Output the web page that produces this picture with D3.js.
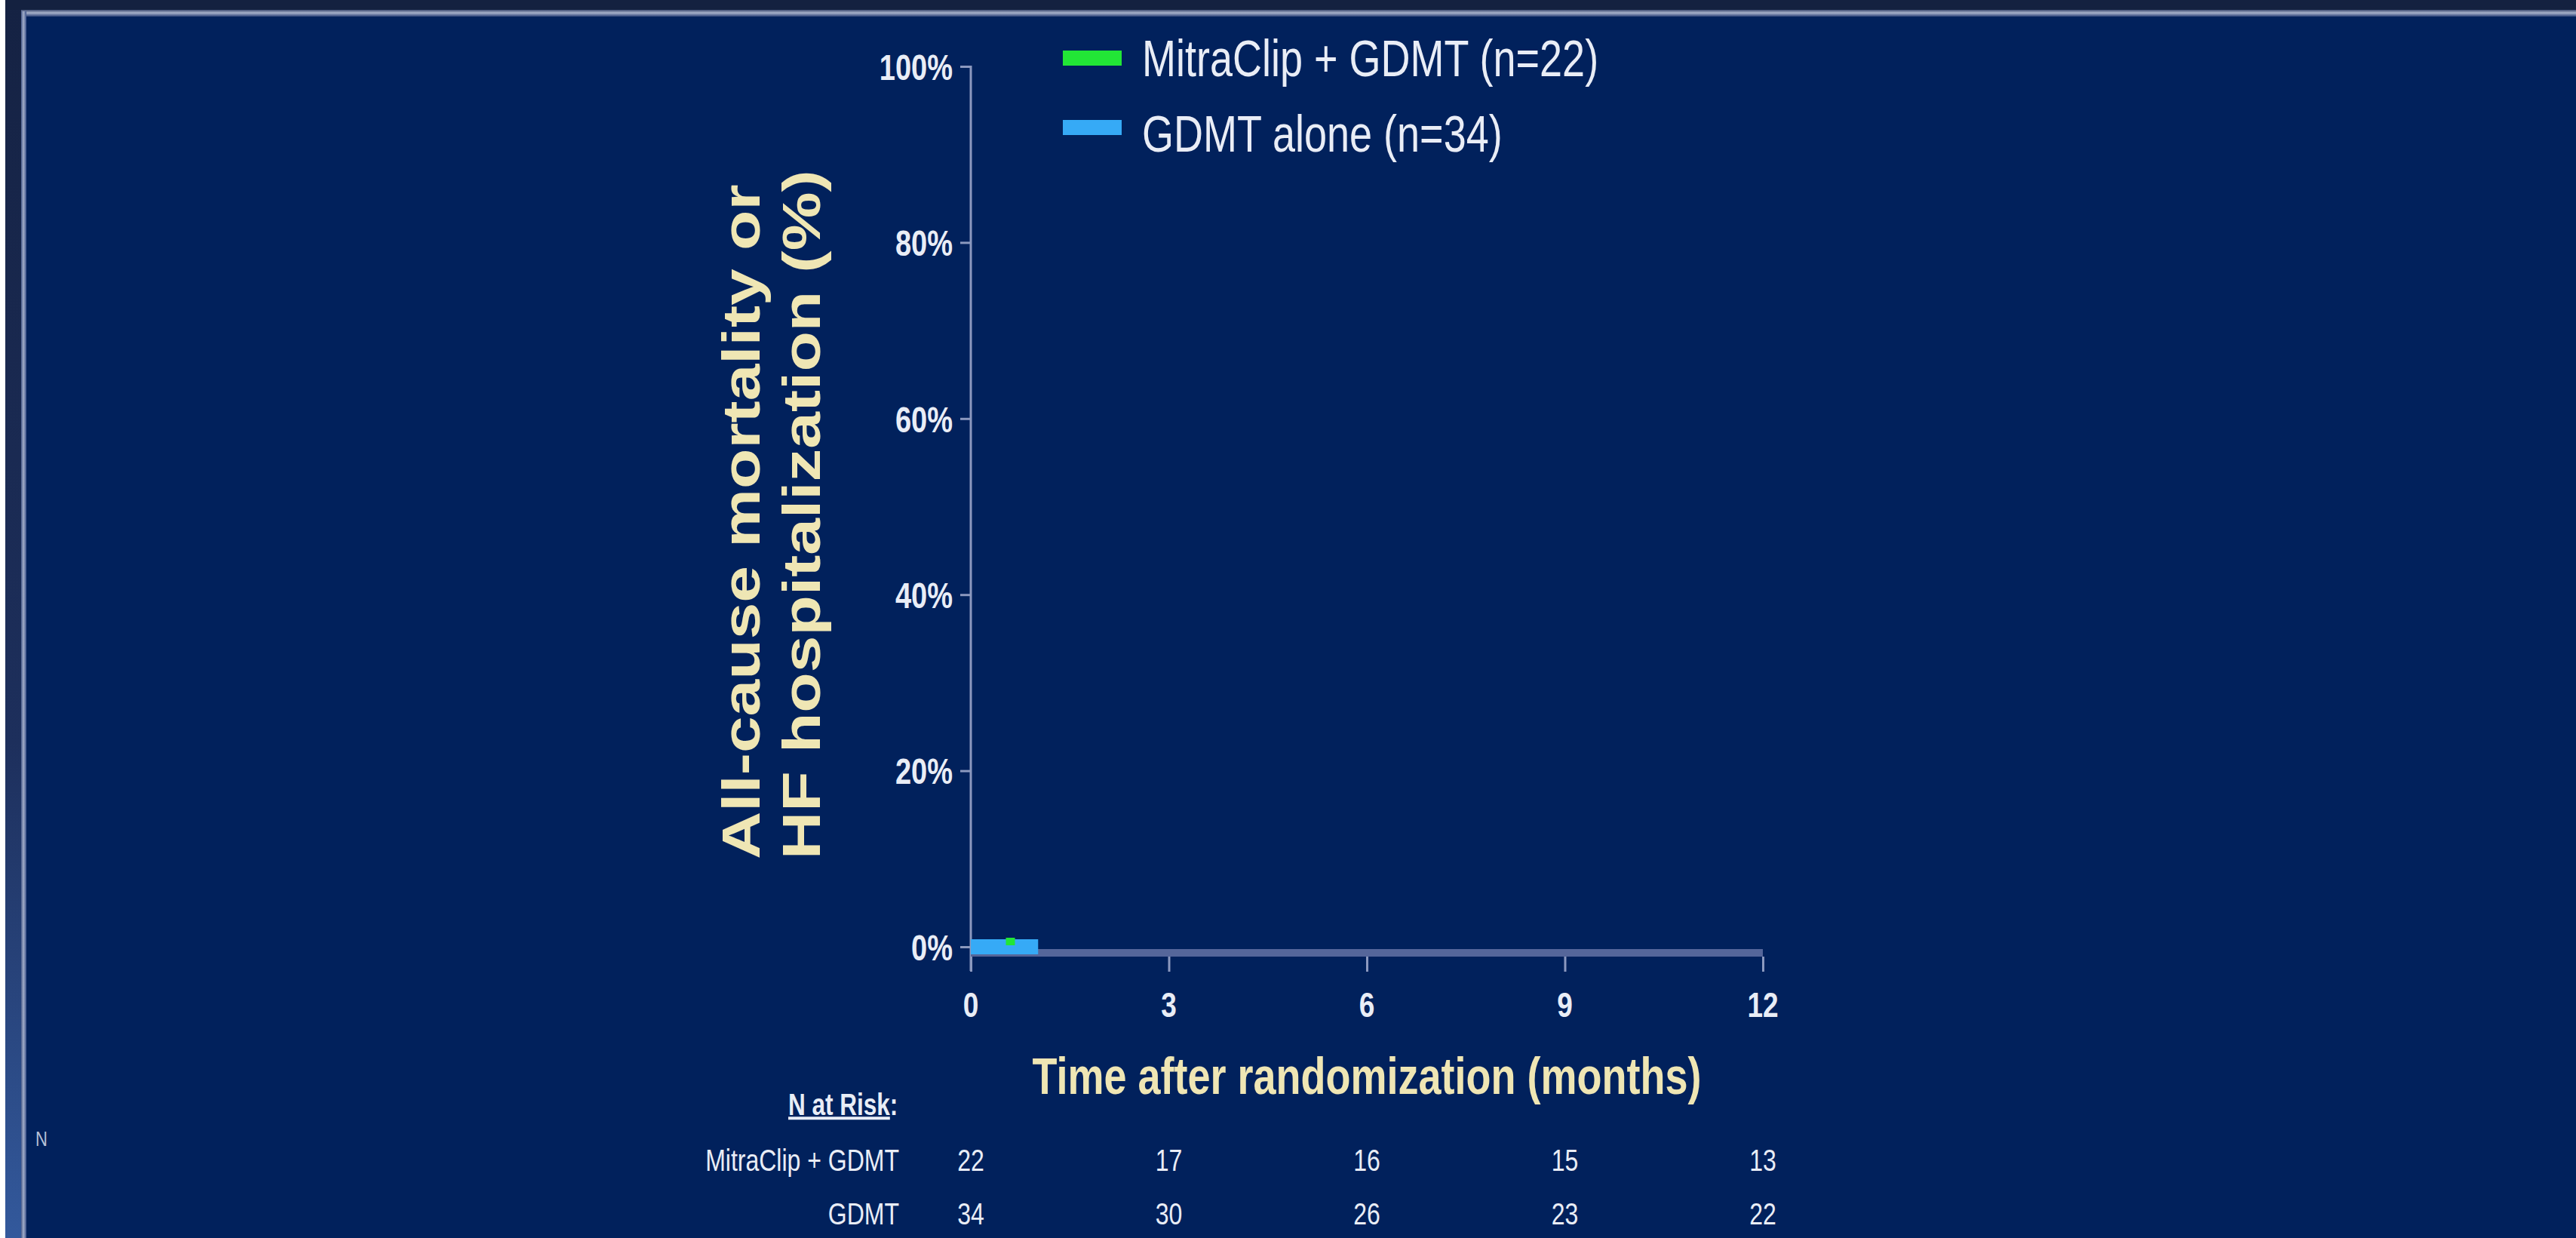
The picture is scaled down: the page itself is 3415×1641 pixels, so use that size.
<!DOCTYPE html>
<html>
<head>
<meta charset="utf-8">
<script src="https://cdn.jsdelivr.net/npm/d3@7"></script>
<style>
  html, body { margin: 0; padding: 0; background: #01215c; }
  svg { display: block; }
  text { font-family: "Liberation Sans", Arial, sans-serif; }
</style>
</head>
<body>
<svg id="chart" width="3415" height="1641"></svg>
<script>
// Kaplan-Meier style event curves (months, % with event)
const mitraTimes = [0, 0.6];
const mitraPct = [0, 0];
const mitraCensor = [0.6];
const gdmtTimes = [0, 1.02];
const gdmtPct = [0, 0];

// Axis ticks
const yTicks = [0, 20, 40, 60, 80, 100];
const xTicks = [0, 3, 6, 9, 12];

// Legend
const seriesNames = ["MitraClip + GDMT (n=22)", "GDMT alone (n=34)"];
const seriesColors = ["#22e636", "#36aaf6"];

// Number at risk table
const riskGroups = ["MitraClip + GDMT", "GDMT"];
const riskMitra = [22, 17, 16, 15, 13];
const riskGdmt = [34, 30, 26, 23, 22];

const W = 3415, H = 1641;
const K = 1.27;            // vertical stretch of the slide text
const cream = "#efe6b4";
const white = "#e9edf6";

const svg = d3.select("#chart");

// ---- slide frame ----
const defs = svg.append("defs");
const sideGrad = defs.append("linearGradient").attr("id", "sideGrad")
  .attr("x1", 0).attr("y1", 0).attr("x2", 0).attr("y2", 1);
sideGrad.append("stop").attr("offset", 0).attr("stop-color", "#152243");
sideGrad.append("stop").attr("offset", 0.6).attr("stop-color", "#1d2f5c");
sideGrad.append("stop").attr("offset", 1).attr("stop-color", "#33599c");
const hLine = defs.append("linearGradient").attr("id", "hLine")
  .attr("x1", 0).attr("y1", 0).attr("x2", 0).attr("y2", 1);
hLine.append("stop").attr("offset", 0).attr("stop-color", "#3d4b72");
hLine.append("stop").attr("offset", 0.45).attr("stop-color", "#a8b2cb");
hLine.append("stop").attr("offset", 1).attr("stop-color", "#2c4278");
const vLine = defs.append("linearGradient").attr("id", "vLine")
  .attr("x1", 0).attr("y1", 0).attr("x2", 1).attr("y2", 0);
vLine.append("stop").attr("offset", 0).attr("stop-color", "#4a5d8c");
vLine.append("stop").attr("offset", 0.45).attr("stop-color", "#a3aec9");
vLine.append("stop").attr("offset", 1).attr("stop-color", "#3a5088");

svg.append("rect").attr("width", W).attr("height", H).attr("fill", "#01215c");
svg.append("rect").attr("x", 0).attr("y", 0).attr("width", 7).attr("height", H).attr("fill", "#ffffff");
svg.append("rect").attr("x", 7).attr("y", 0).attr("width", 21).attr("height", H).attr("fill", "url(#sideGrad)");
svg.append("rect").attr("x", 7).attr("y", 0).attr("width", W - 7).attr("height", 13).attr("fill", "#142140");
svg.append("rect").attr("x", 28).attr("y", 13).attr("width", W - 28).attr("height", 9).attr("fill", "url(#hLine)");
svg.append("rect").attr("x", 28).attr("y", 15).attr("width", 7).attr("height", H - 15).attr("fill", "url(#vLine)");

// ---- scales ----
const x = d3.scaleLinear().domain([0, 12]).range([1287, 2337]);
const y = d3.scaleLinear().domain([0, 100]).range([1255, 88]);

// helper: horizontal text with the slide's vertical stretch
function stretchText(parent, px, py, str, size, opts = {}) {
  const g = parent.append("g").attr("transform", `translate(${px},${py}) scale(1,${K})`);
  const t = g.append("text")
    .attr("x", 0).attr("y", 0)
    .attr("font-size", size)
    .attr("font-weight", opts.weight || "normal")
    .attr("fill", opts.fill || white)
    .attr("text-anchor", opts.anchor || "start")
    .text(str);
  return t;
}

// ---- y axis ----
const yAxis = svg.append("g").attr("transform", `translate(${x(0)},0)`)
  .call(d3.axisLeft(y).tickValues(yTicks).tickFormat(d => d + "%")
    .tickSize(14).tickPadding(10).tickSizeOuter(0));
yAxis.select(".domain").remove();
yAxis.selectAll(".tick line").attr("stroke", "#8c99bf").attr("stroke-width", 3);
yAxis.selectAll(".tick text")
  .attr("font-size", 38).attr("font-weight", "bold").attr("fill", white)
  .attr("font-family", "Liberation Sans, Arial, sans-serif")
  .attr("dy", "0.36em")
  .attr("transform", `scale(1,${K})`);
svg.append("line")
  .attr("x1", x(0)).attr("x2", x(0))
  .attr("y1", y(100) - 1).attr("y2", y(0) + 32)
  .attr("stroke", "#8c99bf").attr("stroke-width", 3);

// ---- x axis ----
const axisY = y(0) + 8;
svg.append("line")
  .attr("x1", x(0)).attr("x2", x(12))
  .attr("y1", axisY).attr("y2", axisY)
  .attr("stroke", "#55669a").attr("stroke-width", 10);
const xAxis = svg.append("g").attr("transform", `translate(0,${axisY + 5})`)
  .call(d3.axisBottom(x).tickValues(xTicks).tickSize(20).tickSizeOuter(0));
xAxis.select(".domain").remove();
xAxis.selectAll(".tick line").attr("stroke", "#8c99bf").attr("stroke-width", 3);
xAxis.selectAll(".tick text").remove();
xTicks.forEach(t => stretchText(svg, x(t), 1348, String(t), 37,
  { weight: "bold", anchor: "middle" }));

// ---- axis titles ----
const yTitleLines = ["All-cause mortality or", "HF hospitalization (%)"];
const yTitleX = [1007, 1087];
yTitleLines.forEach((s, i) => {
  svg.append("g")
    .attr("transform", `translate(${yTitleX[i]},1139) rotate(-90) scale(1.25,1)`)
    .append("text")
    .attr("font-size", 70).attr("font-weight", "bold").attr("fill", cream)
    .text(s);
});
stretchText(svg, (x(0) + x(12)) / 2, 1450, "Time after randomization (months)", 54,
  { weight: "bold", anchor: "middle", fill: cream });

// ---- curves ----
const line = d3.line().x(d => x(d[0])).y(d => y(d[1])).curve(d3.curveStepAfter);
const mitraData = d3.zip(mitraTimes, mitraPct);
const gdmtData = d3.zip(gdmtTimes, gdmtPct);
svg.append("path").datum(mitraData).attr("d", line)
  .attr("fill", "none").attr("stroke", seriesColors[0]).attr("stroke-width", 14);
svg.append("path").datum(gdmtData).attr("d", line)
  .attr("fill", "none").attr("stroke", seriesColors[1]).attr("stroke-width", 20);
svg.selectAll(".censor").data(mitraCensor).enter().append("line")
  .attr("class", "censor")
  .attr("x1", d => x(d)).attr("x2", d => x(d))
  .attr("y1", y(0) - 12).attr("y2", y(0) - 2)
  .attr("stroke", seriesColors[0]).attr("stroke-width", 12);

// ---- legend ----
const legendY = [101, 201];
const swatchY = [77, 169];
seriesNames.forEach((name, i) => {
  svg.append("rect")
    .attr("x", 1409).attr("y", swatchY[i] - 10)
    .attr("width", 78).attr("height", 20)
    .attr("fill", seriesColors[i]);
  stretchText(svg, 1514, legendY[i], name, 54, { fill: white });
});

// ---- number at risk ----
const hdr = stretchText(svg, 1045, 1478, "", 31.5, { weight: "bold", fill: white });
hdr.append("tspan").attr("text-decoration", "underline").text("N at Risk");
hdr.append("tspan").text(":");

const riskRows = [riskMitra, riskGdmt];
const rowY = [1552, 1623];
riskGroups.forEach((g, i) => {
  stretchText(svg, 1192, rowY[i], g, 32, { anchor: "end", fill: white });
  riskRows[i].forEach((v, j) => {
    stretchText(svg, x(xTicks[j]), rowY[i], String(v), 32, { anchor: "middle", fill: white });
  });
});

// stray corner mark
stretchText(svg, 47, 1519, "N", 22, { fill: "#b9c1d8" });
</script>
</body>
</html>
